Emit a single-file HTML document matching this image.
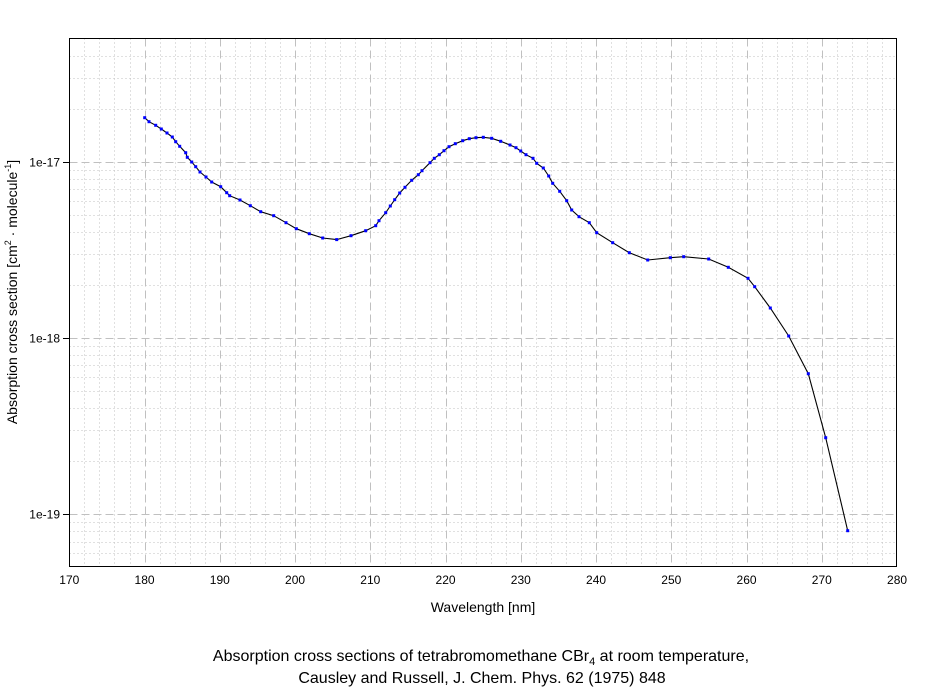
<!DOCTYPE html>
<html><head><meta charset="utf-8"><style>
body{margin:0;background:#fff;}
svg{display:block;font-family:"Liberation Sans",Arial,sans-serif;}
</style></head><body>
<svg width="934" height="689" xmlns="http://www.w3.org/2000/svg">
<rect width="934" height="689" fill="#fff"/>
<g id="grid"></g>
<g id="ticks" font-size="12" fill="#000"></g>
<polyline fill="none" stroke="#000" stroke-width="1.1" id="curve"/>
<g id="pts" fill="#0000ff"></g>
<rect x="69.5" y="38.5" width="827" height="528" fill="none" stroke="#000" stroke-width="1"/>
<text x="483" y="612" font-size="14" text-anchor="middle">Wavelength [nm]</text>
<text transform="translate(17,292) rotate(-90)" font-size="14" text-anchor="middle">Absorption cross section [cm<tspan font-size="9" dy="-6">2</tspan><tspan dy="6"> · molecule</tspan><tspan font-size="9" dy="-6">-1</tspan><tspan dy="6">]</tspan></text>
<text x="481" y="661" font-size="16" text-anchor="middle">Absorption cross sections of tetrabromomethane CBr<tspan font-size="11" dy="4">4</tspan><tspan dy="-4"> at room temperature,</tspan></text>
<text x="482" y="683" font-size="16" text-anchor="middle">Causley and Russell, J. Chem. Phys. 62 (1975) 848</text>
</svg>
<script>
const ns="http://www.w3.org/2000/svg";
const g=document.getElementById('grid'),t=document.getElementById('ticks');
const X0=69.5,X1=896.5,Y0=38.5,Y1=566.5;
function xp(v){return 69.3+(v-170)*7.525;}
function yp(l){return 161.7-(l+17)*176.3;}
function line(x1,y1,x2,y2,dash,col){const l=document.createElementNS(ns,'line');l.setAttribute('x1',x1);l.setAttribute('y1',y1);l.setAttribute('x2',x2);l.setAttribute('y2',y2);l.setAttribute('stroke',col||'#c0c0c0');l.setAttribute('stroke-width',1);if(dash)l.setAttribute('stroke-dasharray',dash);g.appendChild(l);}
function txt(x,y,s,a){const e=document.createElementNS(ns,'text');e.setAttribute('x',x);e.setAttribute('y',y);e.setAttribute('text-anchor',a);e.textContent=s;t.appendChild(e);}
for(let v=172;v<280;v+=2){const x=Math.round(xp(v))+0.5;if(v%10==0){line(x,Y0,x,Y1,'8,4');}else line(x,Y0,x,Y1,'1,3');}
for(let v=170;v<=280;v+=10){txt(xp(v),584,String(v),'middle');}
for(let d=-20;d<=-17;d++){for(let m=1;m<=9;m++){const l=d+Math.log10(m);const y=Math.round(yp(l))+0.5;if(y<=Y0||y>=Y1)continue;
if(m==1){line(X0,y,X1,y,'8,4');line(63,y,69,y,null,'#000');txt(60,y+4,'1e'+(d),'end');}else line(X0,y,X1,y,'1,3');}}
const P=[[144.7,117.7],[149,121.7],[155.7,125.3],[161.3,129],[167,133],[172.3,137],[175.7,141.7],[179.7,146.3],[185.7,152.7],[187.3,157.3],[191.7,162],[195.7,166.7],[200,172],[206,177],[211.7,182],[220.7,186.7],[226.7,192.7],[229.7,195.7],[240,200],[250.3,205.7],[260.7,211.7],[273.7,215.7],[286,222.7],[296.3,228.7],[309.3,233.7],[322.7,238],[336.7,239.6],[351,235.7],[365.7,230.7],[375.7,225.7],[379,220.7],[385.7,212.7],[390.3,206],[394.7,199.7],[399.7,193],[405,187.3],[411.7,180.3],[418.3,174.7],[422,170.7],[430,162.7],[434.3,158.3],[439.3,154.7],[444,150.7],[449,146.7],[455.3,143.7],[462.7,140.7],[469.3,138.7],[476,137.7],[483.3,137.3],[491.7,138.3],[500.7,141.3],[510,145],[516,147.7],[520.7,151],[526,154.7],[533,158.3],[536.7,163.3],[543.3,168],[548.7,176],[552.7,183.3],[559.7,191.3],[566.7,200.7],[571.7,210],[579,216.7],[589.3,222.7],[596.7,232.7],[612.7,242.7],[629.3,252.7],[647.7,260],[670.3,257.7],[683.7,256.7],[708.7,259],[728.3,267.3],[748,278.3],[754.7,286.7],[770.3,308],[788.7,336],[808.3,373.7],[825.7,437.7],[847.7,530.7]];
document.getElementById('curve').setAttribute('points',P.map(p=>p.join(',')).join(' '));
const pg=document.getElementById('pts');
P.forEach(p=>{const r=document.createElementNS(ns,'rect');r.setAttribute('x',p[0]-1.5);r.setAttribute('y',p[1]-1.5);r.setAttribute('width',3);r.setAttribute('height',3);pg.appendChild(r);});
</script>
</body></html>
